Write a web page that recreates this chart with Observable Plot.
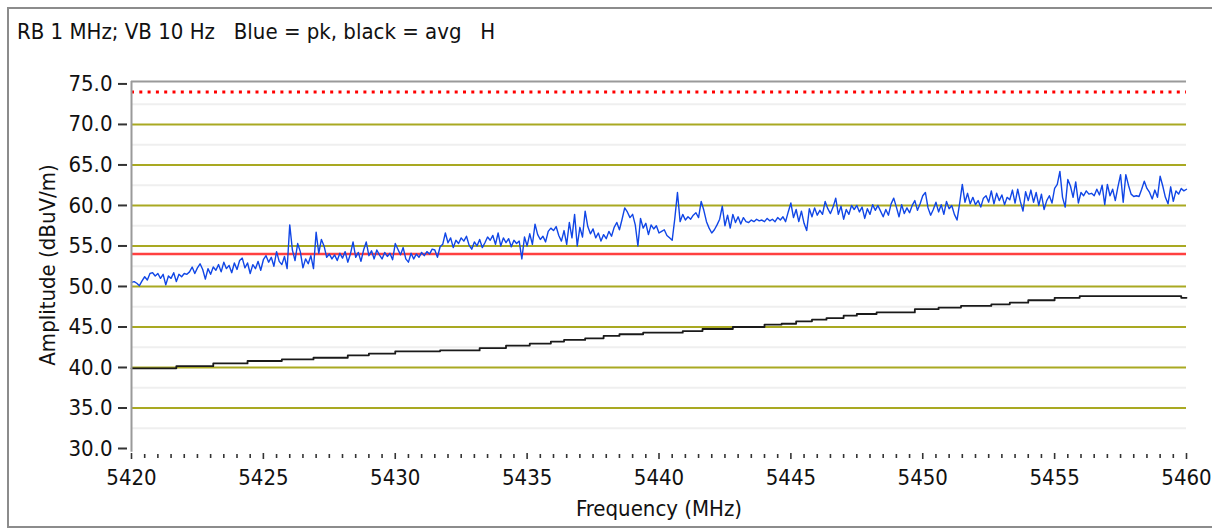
<!DOCTYPE html>
<html><head><meta charset="utf-8">
<script src="https://cdn.jsdelivr.net/npm/d3@7"></script>
<script src="https://cdn.jsdelivr.net/npm/@observablehq/plot@0.6"></script>
<style>
html,body{margin:0;padding:0;background:#fff;}
body{width:1212px;height:529px;overflow:hidden;position:relative;font-family:"DejaVu Sans Condensed","DejaVu Sans",sans-serif;font-stretch:condensed;}
#frame{position:absolute;left:7px;top:7px;width:1240px;height:521px;border:2px solid #8c8c8c;box-sizing:border-box;}
#title{position:absolute;left:17px;top:21px;font-size:22px;line-height:22px;color:#111;white-space:pre;}
#chart{position:absolute;left:0;top:60px;}
</style>
</head><body>
<div id="frame"></div>
<div id="title">RB 1 MHz; VB 10 Hz   Blue = pk, black = avg   H</div>
<div id="chart"></div>
<script>
// ---- data ----
const titleText = "RB 1 MHz; VB 10 Hz   Blue = pk, black = avg   H";
const xLabel = "Frequency (MHz)";
const yLabel = "Amplitude (dBuV/m)";
const xMajorTicks = [5420, 5425, 5430, 5435, 5440, 5445, 5450, 5455, 5460];
const yTicks = [30, 35, 40, 45, 50, 55, 60, 65, 70, 75];
const yMinorGrid = [32.5, 37.5, 42.5, 47.5, 52.5, 57.5, 62.5, 67.5, 72.5];
const yMajorGrid = [35, 40, 45, 50, 55, 60, 65, 70];
const pkLimit = 74;
const avgLimit = 54;

// peak sweep: start frequency, step (MHz), levels (dBuV/m)
const pkStart = 5420;
const pkStep = 0.1;
const pkLevels = [
 50.5,50.6,50.4,50.1,50.7,51.2,50.8,51.6,51.7,51.3,
 51.6,51.0,51.5,50.2,51.3,51.0,51.7,50.6,51.5,51.2,
 51.6,51.5,51.8,52.4,51.6,52.3,52.8,52.1,50.9,52.2,
 51.5,52.4,52.0,52.7,51.8,53.0,52.2,52.6,51.7,52.9,
 52.1,53.2,53.5,52.3,52.9,51.6,52.7,52.2,53.1,52.0,
 53.3,53.8,53.0,53.6,52.5,54.3,53.1,52.7,53.7,52.2,
 57.6,54.5,53.2,55.3,54.3,52.3,53.4,52.8,53.8,52.2,
 56.7,54.1,55.8,55.0,53.6,54.0,53.4,53.9,53.2,54.1,
 53.5,54.3,53.0,54.0,55.5,53.6,54.2,53.1,54.5,55.5,
 53.8,54.4,53.4,54.5,53.9,53.4,54.2,53.7,54.1,53.3,
 55.3,54.6,53.9,54.8,53.4,53.0,54.1,53.4,54.0,53.6,
 54.2,53.8,54.3,54.0,54.6,54.5,53.6,54.9,55.2,56.6,
 55.4,56.0,54.8,55.7,55.3,56.0,55.6,56.2,55.1,54.6,
 55.5,55.0,55.8,54.8,55.4,56.1,55.7,56.3,55.2,56.6,
 55.0,56.0,55.4,55.9,54.9,55.7,55.3,55.6,53.4,56.1,
 55.0,56.5,55.2,57.7,56.4,55.8,56.2,55.5,56.8,57.2,
 56.9,57.4,56.3,55.6,56.9,55.2,57.9,56.0,58.9,55.0,
 57.3,56.1,59.3,57.4,56.5,57.1,56.0,56.6,55.6,56.4,
 55.9,56.8,56.2,57.3,57.9,57.0,58.3,59.7,59.2,58.5,
 58.9,57.6,55.0,58.4,57.2,57.8,56.4,57.6,57.1,57.5,
 56.6,56.8,57.0,56.3,56.0,55.7,58.4,61.6,58.0,58.9,
 58.2,58.6,58.3,58.8,59.1,58.5,60.5,59.4,58.0,57.2,
 56.6,57.0,57.6,58.3,59.9,57.5,58.8,57.2,58.9,57.9,
 58.6,57.7,58.5,58.0,57.9,58.2,58.0,58.3,58.1,58.2,
 58.0,58.4,58.1,58.3,58.0,58.5,58.2,58.6,58.0,59.2,
 60.3,58.5,59.5,58.0,59.3,57.8,56.9,59.6,58.6,59.7,
 58.8,59.4,58.9,60.5,59.6,59.0,59.8,60.9,58.9,59.9,
 58.3,59.5,58.9,60.0,59.5,60.0,59.2,59.8,58.4,59.6,
 58.9,60.1,59.4,60.0,59.3,58.6,59.5,58.8,60.2,60.9,
 59.8,58.6,60.1,59.0,59.7,59.1,60.0,60.6,59.4,60.2,
 61.2,61.6,59.7,58.8,59.5,60.4,59.2,60.1,58.9,60.5,
 59.6,60.0,58.9,58.2,60.3,62.6,60.4,61.5,60.2,61.0,
 60.1,60.6,59.8,60.9,61.2,60.4,61.8,60.2,61.5,60.6,
 61.3,60.1,61.0,60.7,61.9,60.3,62.0,60.5,59.3,61.7,
 60.6,61.9,60.4,61.6,60.0,61.4,59.5,60.6,61.2,60.3,
 62.1,62.6,64.2,61.0,59.8,63.2,62.4,61.0,62.9,60.3,
 61.6,61.2,61.8,61.4,61.5,61.2,62.0,61.3,62.5,60.1,
 62.6,61.2,62.0,60.6,62.3,63.8,60.4,63.8,62.5,61.4,
 61.1,61.2,61.1,62.0,63.0,62.1,61.6,60.8,61.9,61.0,
 63.6,62.4,61.0,60.2,62.3,60.5,61.8,61.4,62.1,61.8,
 62.0
];

// average trace: stepped (frequency where each level begins)
const avgFreq = [5420.0,5421.7,5423.1,5424.4,5425.7,5426.9,5428.2,5429.0,5430.0,5431.7,
 5433.2,5434.2,5435.1,5435.9,5436.4,5437.2,5437.9,5438.5,5439.4,5440.9,
 5441.65,5442.8,5444.0,5444.65,5445.2,5445.8,5446.35,5447.0,5447.5,5448.25,
 5449.7,5450.6,5451.45,5452.6,5453.3,5454.0,5455.0,5455.95,5459.8,5460.0];
const avgLevel = [39.9,40.16,40.5,40.8,41.0,41.2,41.5,41.7,42.0,42.1,
 42.4,42.7,42.95,43.2,43.4,43.6,43.9,44.1,44.3,44.5,
 44.75,45.0,45.3,45.4,45.7,45.9,46.1,46.4,46.6,46.8,
 47.2,47.4,47.6,47.8,48.0,48.3,48.6,48.8,48.6,48.6];

// ---- build ----
const pk = pkLevels.map((v, i) => ({f: pkStart + i * pkStep, v}));
const avg = avgFreq.map((f, i) => ({f, v: avgLevel[i]}));
const xMinorTicks = d3.range(5420, 5460.001, 0.5).filter(t => !xMajorTicks.some(m => Math.abs(m - t) < 1e-6));
const FONT = '"DejaVu Sans Condensed","DejaVu Sans",sans-serif';

const chart = Plot.plot({
  width: 1212,
  height: 469,
  marginLeft: 131,
  marginRight: 26,
  marginTop: 21,
  marginBottom: 81,
  style: {fontFamily: FONT, fontSize: "22px", color: "#111", background: "transparent", overflow: "visible"},
  x: {domain: [5420, 5460]},
  y: {domain: [30, 75.3]},
  marks: [
    Plot.ruleY(yMinorGrid, {stroke: "#efefef", strokeWidth: 2}),
    Plot.ruleY(yMajorGrid, {stroke: "#a9a922", strokeWidth: 2}),
    Plot.ruleY([avgLimit], {stroke: "#ff4040", strokeWidth: 2.5}),
    Plot.ruleY([pkLimit], {stroke: "#ff0000", strokeWidth: 3, strokeDasharray: "3,5.3"}),
    Plot.line(avg, {x: "f", y: "v", curve: "step-after", stroke: "#1a1a1a", strokeWidth: 1.8}),
    Plot.line(pk, {x: "f", y: "v", stroke: "#1046e6", strokeWidth: 1.4}),
    Plot.ruleY([75.3], {stroke: "#9a9a9a", strokeWidth: 2}),
    Plot.ruleX([5420], {y1: 29.55, y2: 75.3, stroke: "#9a9a9a", strokeWidth: 2}),
    Plot.axisY({ticks: yTicks, tickFormat: d => d.toFixed(1), tickSize: 9, tickPadding: 6, dx: -4, label: null, stroke: "#333", strokeWidth: 2, fill: "#111"}),
    Plot.axisX({ticks: xMajorTicks, tickFormat: d => String(d), tickSize: 6, dy: 5, tickPadding: 10, label: null, stroke: "#333", strokeWidth: 1.6, fill: "#111"}),
    Plot.axisX({ticks: xMinorTicks, tickSize: 4, dy: 6, text: null, label: null, stroke: "#333", strokeWidth: 1.6}),
    Plot.text([yLabel], {frameAnchor: "left", dx: -84, rotate: -90, textAnchor: "middle", lineAnchor: "middle", fill: "#111"}),
    Plot.text([xLabel], {frameAnchor: "bottom", dy: 60, textAnchor: "middle", lineAnchor: "middle", fill: "#111"})
  ]
});
document.getElementById("title").textContent = titleText;
document.getElementById("chart").appendChild(chart);
</script>
</body></html>
